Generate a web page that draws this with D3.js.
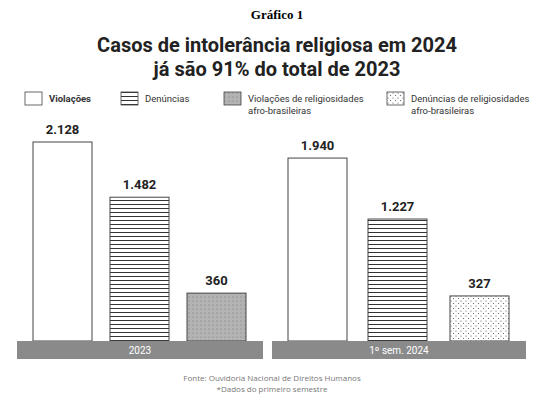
<!DOCTYPE html>
<html><head><meta charset="utf-8">
<script src="https://cdn.jsdelivr.net/npm/d3@7"></script>
<style>body{margin:0;background:#fff}</style>
</head><body>
<script>
const periods = ["2023", "1º sem. 2024"];
const series = ["Violações", "Denúncias", "Violações de religiosidades\nafro-brasileiras", "Denúncias de religiosidades\nafro-brasileiras"];
const values2023 = [2128, 1482, 360];
const values2024 = [1940, 1227, 327];
const labels2023 = ["2.128", "1.482", "360"];
const labels2024 = ["1.940", "1.227", "327"];

const W = 554, H = 404;
const svg = d3.select("body").append("svg").attr("width", W).attr("height", H);
const defs = svg.append("defs");

const hp = defs.append("pattern").attr("id", "hlines").attr("patternUnits", "userSpaceOnUse").attr("width", 6).attr("height", 4);
hp.append("rect").attr("width", 6).attr("height", 4).attr("fill", "#fff");
hp.append("line").attr("x1", 0).attr("x2", 6).attr("y1", 0.5).attr("y2", 0.5).attr("stroke", "#333").attr("stroke-width", 1);

const gp = defs.append("pattern").attr("id", "gdots").attr("patternUnits", "userSpaceOnUse").attr("width", 4).attr("height", 4);
gp.append("rect").attr("width", 4).attr("height", 4).attr("fill", "#b3b3b3");
gp.append("circle").attr("cx", 1).attr("cy", 1).attr("r", 0.6).attr("fill", "#777");

const wp = defs.append("pattern").attr("id", "wdots").attr("patternUnits", "userSpaceOnUse").attr("width", 5).attr("height", 5);
wp.append("rect").attr("width", 5).attr("height", 5).attr("fill", "#fff");
wp.append("circle").attr("cx", 1).attr("cy", 1).attr("r", 0.6).attr("fill", "#555");
wp.append("circle").attr("cx", 3.5).attr("cy", 3.5).attr("r", 0.6).attr("fill", "#555");

const fills = ["#fff", "url(#hlines)", "url(#gdots)", "url(#wdots)"];

svg.append("text").attr("x", W / 2).attr("y", 19).attr("text-anchor", "middle")
  .attr("font-family", "Liberation Serif").attr("font-weight", "bold").attr("font-size", 13).text("Gráfico 1");
svg.append("text").attr("text-anchor", "middle").attr("font-family", "Roboto").attr("font-weight", "bold")
  .attr("font-size", 20).attr("fill", "#222")
  .selectAll("tspan").data(["Casos de intolerância religiosa em 2024", "já são 91% do total de 2023"]).join("tspan")
  .attr("x", W / 2).attr("y", (d, i) => 52 + i * 24).text(d => d);

// legend
const legX = [25, 121, 224, 387];
const leg = svg.append("g").selectAll("g").data(series).join("g")
  .attr("transform", (d, i) => `translate(${legX[i]},92)`);
leg.append("rect").attr("width", 17).attr("height", 13).attr("fill", (d, i) => fills[i]).attr("stroke", "#444").attr("stroke-width", 0.8);
leg.append("text").attr("font-family", "Roboto").attr("font-size", 9.5).attr("fill", "#333")
  .attr("font-weight", (d, i) => i === 0 ? "bold" : "normal")
  .selectAll("tspan").data(d => d.split("\n")).join("tspan")
  .attr("x", 24).attr("y", (d, i) => 10 + i * 12).text(d => d);

// bars
const y = d3.scaleLinear().domain([-200, 2128]).range([341, 142]);
const panels = [
  { label: periods[0], x0: 17, x1: 263, vals: values2023, labs: labels2023, bx: [33, 110, 187] },
  { label: periods[1], x0: 272, x1: 526, vals: values2024, labs: labels2024, bx: [288, 368, 450] }
];
const bw = 59;
panels.forEach(p => {
  const g = svg.append("g");
  g.selectAll("rect.bar").data(p.vals).join("rect").attr("class", "bar")
    .attr("x", (d, i) => p.bx[i]).attr("width", bw)
    .attr("y", d => y(d)).attr("height", d => y(-200) - y(d))
    .attr("fill", (d, i) => fills[i === 0 ? 0 : i === 1 ? 1 : (p === panels[0] ? 2 : 3)])
    .attr("stroke", "#444").attr("stroke-width", 1);
  g.selectAll("text.val").data(p.vals).join("text").attr("class", "val")
    .attr("x", (d, i) => p.bx[i] + bw / 2).attr("y", d => y(d) - 8)
    .attr("text-anchor", "middle").attr("font-family", "Roboto").attr("font-weight", "bold")
    .attr("font-size", 13).attr("fill", "#222").text((d, i) => p.labs[i]);
  g.append("rect").attr("x", p.x0).attr("y", 341).attr("width", p.x1 - p.x0).attr("height", 18).attr("fill", "#8a8a8a");
  g.append("text").attr("x", (p.x0 + p.x1) / 2).attr("y", 354).attr("text-anchor", "middle")
    .attr("font-family", "Roboto").attr("font-size", 10).attr("fill", "#fff").text(p.label);
});

svg.append("text").attr("text-anchor", "middle").attr("font-family", "Open Sans").attr("font-size", 8).attr("fill", "#777")
  .selectAll("tspan").data(["Fonte: Ouvidoria Nacional de Direitos Humanos", "*Dados do primeiro semestre"]).join("tspan")
  .attr("x", 272).attr("y", (d, i) => 381 + i * 11).text(d => d);
</script>
</body></html>
